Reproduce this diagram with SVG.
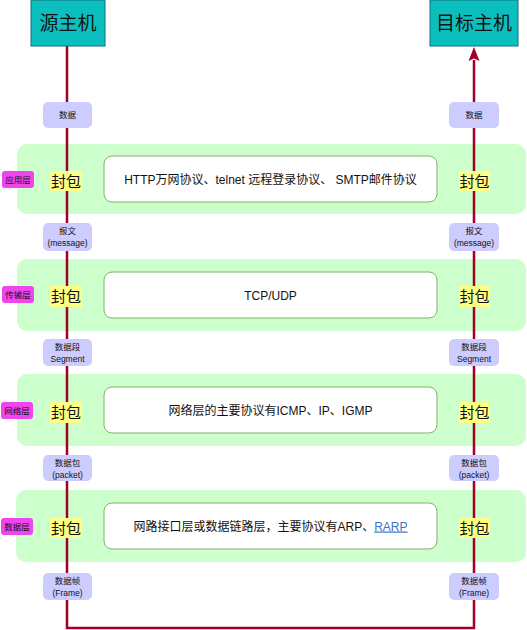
<svg xmlns="http://www.w3.org/2000/svg" width="527" height="630" viewBox="0 0 527 630">
<style>
text{font-family:"Liberation Sans","Noto Sans CJK SC",sans-serif;fill:#111;text-anchor:middle}
.host{fill:#0cbfbf;stroke:#10707f;stroke-width:1}
.band{fill:#ccffcc}
.box{fill:#fff;stroke:#82b366;stroke-width:1}
.pkg{fill:#ffff88}
.lay{fill:#ef45ef}
.dat{fill:#ccccff}
.line{fill:none;stroke:#a20025;stroke-width:2.5}
.t20{font-size:19px}
.t12{font-size:12px}
.t14{font-size:15px}
.t8{font-size:8.5px}
</style>
<defs>
<marker id="ah" markerWidth="8" markerHeight="10" refX="5" refY="5" orient="auto" markerUnits="userSpaceOnUse" viewBox="0 0 10 10">
<path d="M0,0 L10,5 L0,10 L2.5,5 z" fill="#a20025"/>
</marker>
</defs>
<g id="bands">
<rect class="band" x="17" y="144" width="509" height="70" rx="10"/>
<rect class="band" x="17" y="259" width="509" height="72" rx="10"/>
<rect class="band" x="17" y="374" width="509" height="72" rx="10"/>
<rect class="band" x="16" y="490" width="510" height="72" rx="10"/>
</g>
<g id="connectors">
<path class="line" d="M67,46 V628 H474 V60"/>
<path d="M474,47 L479.5,61 L474,58.5 L468.5,61 z" fill="#a20025"/>
</g>
<g id="src"><rect class="host" x="31" y="0" width="74" height="46"/><text class="t20" x="68" y="30">源主机</text></g>
<g id="dst"><rect class="host" x="430" y="0" width="88" height="46"/><text class="t20" x="474" y="30">目标主机</text></g>
<g id="app-label"><rect class="lay" x="2" y="171" width="32" height="17" rx="3"/><text class="t8" x="18" y="182.5">应用层</text></g>
<g id="trans-label"><rect class="lay" x="2" y="286" width="32" height="17" rx="3"/><text class="t8" x="18" y="297.5">传输层</text></g>
<g id="net-label"><rect class="lay" x="1" y="402" width="32" height="17" rx="3"/><text class="t8" x="17" y="413.5">网络层</text></g>
<g id="link-label"><rect class="lay" x="1" y="518" width="32" height="17" rx="3"/><text class="t8" x="17" y="529.5">数据层</text></g>
<g id="app-box"><rect class="box" x="104" y="156" width="333" height="46" rx="8"/><text class="t12" x="270.5" y="183.5">HTTP万网协议、telnet 远程登录协议、 SMTP邮件协议</text></g>
<g id="trans-box"><rect class="box" x="104" y="272" width="333" height="46" rx="8"/><text class="t12" x="270.5" y="299.5">TCP/UDP</text></g>
<g id="net-box"><rect class="box" x="104" y="387" width="333" height="46" rx="8"/><text class="t12" x="270.5" y="414.5">网络层的主要协议有ICMP、IP、IGMP</text></g>
<g id="link-box"><rect class="box" x="104" y="503" width="333" height="46" rx="8"/><text class="t12" x="270.5" y="530.5">网路接口层或数据链路层，主要协议有ARP、<tspan fill="#3b73c9" text-decoration="underline">RARP</tspan></text></g>
<g id="pkg-l1"><rect class="pkg" x="50" y="171" width="32" height="20"/><text class="t14" x="66" y="186.5">封包</text></g>
<g id="pkg-r1"><rect class="pkg" x="459" y="171" width="31" height="20"/><text class="t14" x="474.5" y="186.5">封包</text></g>
<g id="pkg-l2"><rect class="pkg" x="50" y="286" width="32" height="21"/><text class="t14" x="66" y="302">封包</text></g>
<g id="pkg-r2"><rect class="pkg" x="459" y="286" width="31" height="21"/><text class="t14" x="474.5" y="302">封包</text></g>
<g id="pkg-l3"><rect class="pkg" x="50" y="402" width="32" height="21"/><text class="t14" x="66" y="418">封包</text></g>
<g id="pkg-r3"><rect class="pkg" x="459" y="402" width="31" height="21"/><text class="t14" x="474.5" y="418">封包</text></g>
<g id="pkg-l4"><rect class="pkg" x="50" y="518" width="32" height="20"/><text class="t14" x="66" y="533.5">封包</text></g>
<g id="pkg-r4"><rect class="pkg" x="459" y="518" width="31" height="20"/><text class="t14" x="474.5" y="533.5">封包</text></g>
<g id="data-l"><rect class="dat" x="43" y="102" width="49" height="26" rx="5"/><text class="t8" x="67.5" y="118">数据</text></g>
<g id="data-r"><rect class="dat" x="449" y="102" width="50" height="26" rx="5"/><text class="t8" x="474" y="118">数据</text></g>
<g id="msg-l"><rect class="dat" x="43" y="223" width="49" height="28" rx="5"/><text class="t8" x="67.5" y="234">报文</text><text class="t8" x="67.5" y="246">(message)</text></g>
<g id="msg-r"><rect class="dat" x="449" y="223" width="50" height="28" rx="5"/><text class="t8" x="474" y="234">报文</text><text class="t8" x="474" y="246">(message)</text></g>
<g id="seg-l"><rect class="dat" x="43" y="339" width="49" height="27" rx="5"/><text class="t8" x="67.5" y="350">数据段</text><text class="t8" x="67.5" y="362">Segment</text></g>
<g id="seg-r"><rect class="dat" x="449" y="339" width="50" height="27" rx="5"/><text class="t8" x="474" y="350">数据段</text><text class="t8" x="474" y="362">Segment</text></g>
<g id="pkt-l"><rect class="dat" x="43" y="455" width="49" height="26" rx="5"/><text class="t8" x="67.5" y="466">数据包</text><text class="t8" x="67.5" y="478">(packet)</text></g>
<g id="pkt-r"><rect class="dat" x="449" y="455" width="50" height="26" rx="5"/><text class="t8" x="474" y="466">数据包</text><text class="t8" x="474" y="478">(packet)</text></g>
<g id="frm-l"><rect class="dat" x="43" y="573" width="49" height="27" rx="5"/><text class="t8" x="67.5" y="584">数据帧</text><text class="t8" x="67.5" y="596">(Frame)</text></g>
<g id="frm-r"><rect class="dat" x="449" y="573" width="50" height="27" rx="5"/><text class="t8" x="474" y="584">数据帧</text><text class="t8" x="474" y="596">(Frame)</text></g>
</svg>
